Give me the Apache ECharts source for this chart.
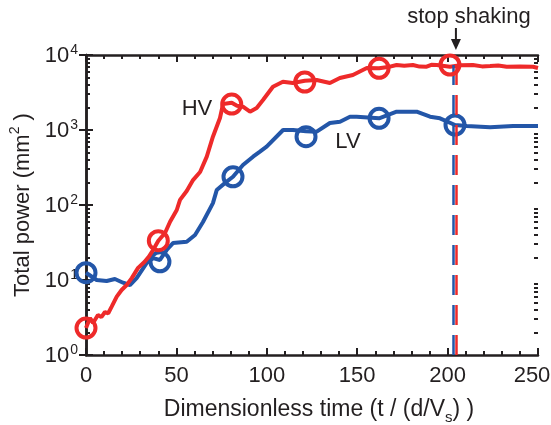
<!DOCTYPE html>
<html>
<head>
<meta charset="utf-8">
<script src="https://cdn.jsdelivr.net/npm/echarts@6/dist/echarts.min.js"></script>
<style>
html,body{margin:0;padding:0;background:#fff;}
#main{width:551px;height:425px;}
</style>
</head>
<body>
<div id="main"></div>
<script>
// ---- data ----
const hvT = [0, 2.2, 3.9, 6.6, 8.5, 10.5, 12.3, 14.2, 17.0, 19.7, 22.5, 25.3, 28.8, 32.3, 34.8, 37.1, 40.0, 43.7, 46.5, 50.2, 52.0, 55.7, 59.2, 63.1, 66.8, 70.2, 74.1, 75.8, 80.6, 83.5, 86.8, 90.7, 94.4, 97.9, 103.4, 108.9, 114.4, 121.0, 127.6, 134.9, 140.4, 147.6, 155.3, 162.1, 167.0, 171.8, 176.0, 180.8, 184.5, 188.4, 191.0, 194.0, 201.3, 207.0, 214.0, 219.0, 223.5, 228.0, 232.7, 240.0, 247.2, 250];
const hvP = [2.29, 3.11, 2.67, 3.41, 3.2, 3.74, 3.6, 4.41, 5.99, 7.36, 8.58, 10.6, 14.5, 17.4, 20.5, 25.1, 33.4, 42.3, 59.9, 85.8, 117, 154, 215, 275, 441, 814, 1445, 2220, 2310, 2100, 2045, 1754, 1965, 2512, 3776, 4405, 4233, 4541, 4642, 4233, 4935, 5412, 6708, 6650, 6900, 7356, 7200, 7356, 7000, 6980, 7400, 7356, 6980, 7300, 7356, 7050, 7130, 7250, 6980, 7000, 6980, 6708];
const lvT = [0, 5.9, 11.4, 16.0, 20.5, 24.3, 28.0, 33.6, 37.1, 40.9, 44.6, 48.1, 55.7, 60.3, 64.7, 70.2, 72.3, 77.8, 81.3, 86.8, 92.4, 96.2, 99.9, 109.0, 114.5, 121.7, 127.6, 134.9, 140.5, 146.0, 149.7, 162.1, 171.8, 182.9, 190.3, 195.8, 204.1, 210.6, 223.5, 236.2, 250];
const lvP = [12.5, 10.0, 9.7, 10.3, 9.2, 8.58, 10.6, 16.9, 19.6, 18.5, 25.1, 31.1, 32.4, 39.8, 59.3, 106, 158, 205, 238, 341, 441, 514, 599, 1000, 1000, 960, 949, 1240, 1291, 1504, 1504, 1432, 1754, 1754, 1504, 1432, 1166, 1130, 1087, 1130, 1130];
const hvMarkT = [0, 40.0, 80.6, 121.0, 162.1, 201.3];
const hvMarkP = [2.29, 33.4, 2220, 4365, 6650, 7356];
const lvMarkT = [0, 40.9, 81.3, 121.7, 162.1, 204.1];
const lvMarkP = [12.5, 17.5, 238, 814, 1432, 1166];
const xTicks = [0, 50, 100, 150, 200, 250];
const yDecades = [1, 10, 100, 1000, 10000];
const minorMult = [2, 3, 4, 5, 6, 7, 8, 9];
const stopShakingT = 204;
const labels = [{text: 'HV', t: 61.4, p: 1905}, {text: 'LV', t: 144.9, p: 692}];
const stopText = 'stop shaking';

const RED = '#ee2a2a', BLUE = '#2356a8', INK = '#231f20';
const FONT = '"Liberation Sans", Arial, sans-serif';

const zip = (a, b) => a.map((v, i) => [v, b[i]]);
const minorLogVals = [];
yDecades.slice(0, -1).forEach(d => minorMult.forEach(m => minorLogVals.push(Math.log10(d * m))));
const xMax = xTicks[xTicks.length - 1];

const chart = echarts.init(document.getElementById('main'), null, {renderer: 'canvas'});

const G = {left: 86, right: 13, top: 55, bottom: 70, containLabel: false, outerBoundsMode: 'none'};

const xBase = {
  type: 'value', min: xTicks[0], max: xMax, interval: 50, gridIndex: 0,
  axisLine: {show: true, onZero: false, lineStyle: {color: INK, width: 2.5}},
  axisTick: {show: true, inside: true, length: 7, lineStyle: {color: INK, width: 2}},
  minorTick: {show: true, splitNumber: 5, length: 4, lineStyle: {color: INK, width: 2}},
  splitLine: {show: false}, minorSplitLine: {show: false}
};
const minorY = pos => ({
  type: 'value', min: 0, max: 4, position: pos, gridIndex: 1,
  axisLine: {show: false, onZero: false},
  axisTick: {show: true, inside: true, length: 4, customValues: minorLogVals, lineStyle: {color: INK, width: 2}},
  axisLabel: {show: false}, splitLine: {show: false}
});

const option = {
  animation: false,
  backgroundColor: '#fff',
  textStyle: {fontFamily: FONT},
  grid: [Object.assign({}, G), Object.assign({}, G)],
  xAxis: [
    Object.assign({}, xBase, {
      position: 'bottom',
      axisLabel: {
        show: true, fontSize: 22, color: INK, margin: 10, fontFamily: FONT,
        formatter: v => v === xMax ? '{m|' + v + '}' : '{n|' + v + '}',
        rich: {
          n: {fontSize: 22, color: INK, fontFamily: FONT},
          m: {fontSize: 22, color: INK, fontFamily: FONT, padding: [0, 12, 0, 0]}
        }
      },
      name: '{a|Dimensionless time (t / (d/V}{sub|s}{a|) )}',
      nameLocation: 'middle', nameGap: 40,
      nameTextStyle: {
        padding: [0, 0, 0, 14],
        rich: {
          a: {fontSize: 23, color: INK, fontFamily: FONT, lineHeight: 26, verticalAlign: 'bottom'},
          sub: {fontSize: 15, color: INK, fontFamily: FONT, lineHeight: 26, verticalAlign: 'bottom', padding: [0, 0, -4, 0]}
        }
      }
    }),
    Object.assign({}, xBase, {position: 'top', axisLabel: {show: false}}),
    {type: 'value', gridIndex: 1, min: 0, max: xMax, show: false}
  ],
  yAxis: [
    {
      type: 'log', logBase: 10, min: 1, max: 10000, position: 'left', gridIndex: 0,
      axisLine: {show: true, lineStyle: {color: INK, width: 2.5}},
      axisTick: {show: true, inside: true, length: 7, lineStyle: {color: INK, width: 2}},
      splitLine: {show: false},
      axisLabel: {
        show: true, margin: 8,
        formatter: v => '{b|10}{s|' + Math.round(Math.log10(v)) + '}',
        rich: {
          b: {fontSize: 22, color: INK, fontFamily: FONT, verticalAlign: 'bottom', lineHeight: 24},
          s: {fontSize: 14, color: INK, fontFamily: FONT, verticalAlign: 'top', lineHeight: 24, padding: [0, 0, 0, 1]}
        }
      },
      name: '{a|Total power (mm}{sup|2}{a| )}',
      nameLocation: 'middle', nameGap: 44, nameRotate: 90,
      nameTextStyle: {
        rich: {
          a: {fontSize: 22, color: INK, fontFamily: FONT, lineHeight: 26, verticalAlign: 'bottom'},
          sup: {fontSize: 14, color: INK, fontFamily: FONT, lineHeight: 26, verticalAlign: 'top'}
        }
      }
    },
    {
      type: 'log', logBase: 10, min: 1, max: 10000, position: 'right', gridIndex: 0,
      axisLine: {show: true, lineStyle: {color: INK, width: 2.5}},
      axisTick: {show: true, inside: true, length: 7, lineStyle: {color: INK, width: 2}},
      splitLine: {show: false}, axisLabel: {show: false}
    },
    minorY('left'),
    minorY('right')
  ],
  series: [
    {
      name: 'LV', type: 'line', data: zip(lvT, lvP), showSymbol: false, smooth: false,
      lineStyle: {color: BLUE, width: 4}, z: 2,
      markLine: {
        silent: true, symbol: 'none', label: {show: false},
        lineStyle: {color: BLUE, width: 2.5, type: [20, 10]},
        data: [{xAxis: stopShakingT - 0.6}]
      }
    },
    {
      name: 'LV markers', type: 'scatter', data: zip(lvMarkT, lvMarkP), symbol: 'circle', symbolSize: 19,
      itemStyle: {color: 'transparent', borderColor: BLUE, borderWidth: 4, opacity: 1}, z: 3
    },
    {
      name: 'HV', type: 'line', data: zip(hvT, hvP), showSymbol: false, smooth: false,
      lineStyle: {color: RED, width: 4}, z: 4,
      markLine: {
        silent: true, symbol: 'none', label: {show: false},
        lineStyle: {color: RED, width: 2.5, type: [20, 10]},
        data: [{xAxis: stopShakingT + 0.6}]
      }
    },
    {
      name: 'HV markers', type: 'scatter', data: zip(hvMarkT, hvMarkP), symbol: 'circle', symbolSize: 19,
      itemStyle: {color: 'transparent', borderColor: RED, borderWidth: 4, opacity: 1}, z: 5
    }
  ]
};
chart.setOption(option);

// annotations positioned through the axes
const gfx = [];
labels.forEach(l => {
  const p = chart.convertToPixel({xAxisIndex: 0, yAxisIndex: 0}, [l.t, l.p]);
  gfx.push({type: 'text', x: p[0], y: p[1], style: {text: l.text, fill: INK, font: '22px ' + FONT, textAlign: 'center', textVerticalAlign: 'middle'}});
});
const ax = chart.convertToPixel({xAxisIndex: 0}, stopShakingT + 0.6);
const topY = chart.convertToPixel({yAxisIndex: 0}, 10000);
gfx.push({type: 'text', x: ax + 13, y: topY - 38, style: {text: stopText, fill: INK, font: '22px ' + FONT, textAlign: 'center', textVerticalAlign: 'middle'}});
gfx.push({type: 'line', shape: {x1: ax, y1: topY - 27, x2: ax, y2: topY - 12}, style: {stroke: INK, lineWidth: 2}});
gfx.push({type: 'polygon', shape: {points: [[ax - 5, topY - 16], [ax + 5, topY - 16], [ax, topY - 5]]}, style: {fill: INK}});
chart.setOption({graphic: gfx});
</script>
</body>
</html>
